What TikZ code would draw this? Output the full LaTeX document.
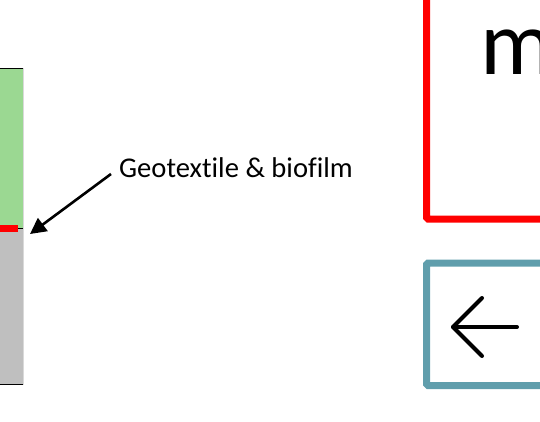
\documentclass[tikz,border=0pt]{standalone}
\usepackage{fontspec}
\setmainfont{Carlito}[Ligatures=NoCommon]
\usetikzlibrary{arrows.meta}
\definecolor{soilgreen}{RGB}{155,216,146}
\definecolor{soilgray}{RGB}{191,191,191}
\definecolor{boxteal}{RGB}{96,158,172}
\definecolor{boxred}{RGB}{255,0,0}
\tikzset{
  edge/.style={line width=1.6pt, black},
  frame/.style={line width=7pt, rounded corners=1.5pt},
  glyphline/.style={line width=4pt, line cap=round, line join=round},
}
\begin{document}
\begin{tikzpicture}[x=1pt,y=-1pt]
  \useasboundingbox (0,0) rectangle (540,422);
  \clip (0,0) rectangle (540,422);
  % soil column: planted layer over gravel
  \fill[soilgreen] (0,68) rectangle (23,228);
  \fill[soilgray] (0,228) rectangle (23,385);
  \draw[line width=0.4pt, black!15] (23,68) -- (23,385);
  \draw[edge] (0,68.5) -- (23,68.5);
  \draw[edge] (0,384.5) -- (23,384.5);
  \draw[line width=1pt] (17,228) -- (23,228);
  \fill[boxred] (0,224.5) rectangle (18,231.5);
  % label with pointer to the geotextile layer
  \node[anchor=west, inner sep=0, font=\fontsize{28.6}{32}\selectfont] (lbl) at (119,168) {Geotextile \& biofilm};
  \coordinate (from) at (111,174);
  \coordinate (tip) at (30,234);
  \draw[line width=2.6pt, -{Triangle[length=16pt,width=16pt]}] (from) -- (tip);
  % red frame
  \draw[frame, boxred] (426.5,-20) |- (560,219) ;
  \node[anchor=base west, inner sep=0, font=\fontsize{92}{100}\selectfont] (mtxt) at (480,75) {m};
  % teal frame with arrow symbol
  \draw[frame, boxteal] (560,263) -| (426.5,385.5) -- (560,385.5);
  \coordinate (ahead) at (453,327);
  \coordinate (atail) at (517,327);
  \draw[glyphline] (atail) -- (ahead);
  \draw[glyphline] (482,298) -- (ahead) -- (482,356);
\end{tikzpicture}
\end{document}
